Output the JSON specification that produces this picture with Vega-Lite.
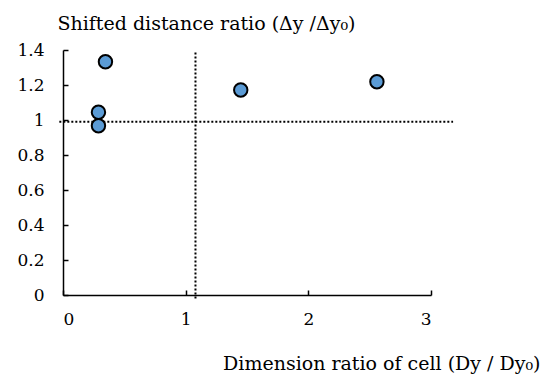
{
  "$schema": "https://vega.github.io/schema/vega-lite/v6.json",
  "width": 368,
  "height": 245,
  "autosize": {"type": "none"},
  "padding": {"left": 63, "top": 50, "right": 114, "bottom": 85},
  "config": {
    "view": {"stroke": null},
    "font": "DejaVu Serif",
    "axis": {
      "grid": false,
      "domainColor": "#000000",
      "tickColor": "#000000",
      "domainWidth": 1.5,
      "tickWidth": 1.5,
      "tickSize": -5,
      "labelColor": "#000000",
      "titleColor": "#000000",
      "labelFont": "DejaVu Serif",
      "titleFont": "DejaVu Serif",
      "labelFontSize": 17,
      "titleFontSize": 19,
      "titleFontWeight": "normal"
    }
  },
  "encoding": {
    "x": {
      "field": "x", "type": "quantitative",
      "scale": {"domain": [0, 3], "nice": false},
      "axis": {
        "title": "Dimension ratio of cell (Dy / Dy₀)",
        "values": [0, 1, 2, 3],
        "format": "~g",
        "labelOverlap": false,
        "labelPadding": 21,
        "titleAlign": "right",
        "titleBaseline": "alphabetic",
        "titleX": 477,
        "titleY": 74
      }
    },
    "y": {
      "field": "y", "type": "quantitative",
      "scale": {"domain": [0, 1.4], "nice": false},
      "axis": {
        "title": "Shifted distance ratio (Δy /Δy₀)",
        "values": [0, 0.2, 0.4, 0.6, 0.8, 1, 1.2, 1.4],
        "format": "~g",
        "labelOverlap": false,
        "labelFlush": false,
        "labelPadding": 24,
        "titleAngle": 0,
        "titleAlign": "left",
        "titleBaseline": "alphabetic",
        "titleX": -6,
        "titleY": -20.5
      }
    }
  },
  "layer": [
    {
      "data": {"values": [{"x": 1.08, "y": -0.02, "y2": 1.39}]},
      "mark": {"type": "rule", "strokeDash": [2, 2], "strokeWidth": 2, "color": "#000000"},
      "encoding": {
        "y2": {"field": "y2"}
      }
    },
    {
      "data": {"values": [{"y": 0.99, "x": -0.03, "x2": 3.18}]},
      "mark": {"type": "rule", "strokeDash": [2, 2], "strokeWidth": 2, "color": "#000000"},
      "encoding": {
        "x2": {"field": "x2"}
      }
    },
    {
      "data": {"values": [
        {"x": 0.346, "y": 1.333},
        {"x": 0.289, "y": 1.044},
        {"x": 0.289, "y": 0.967},
        {"x": 1.449, "y": 1.171},
        {"x": 2.559, "y": 1.219}
      ]},
      "mark": {"type": "point", "shape": "circle", "filled": true, "fill": "#5B9BD5", "stroke": "#000000", "strokeWidth": 2, "size": 180, "opacity": 1},
      "encoding": {}
    }
  ]
}
